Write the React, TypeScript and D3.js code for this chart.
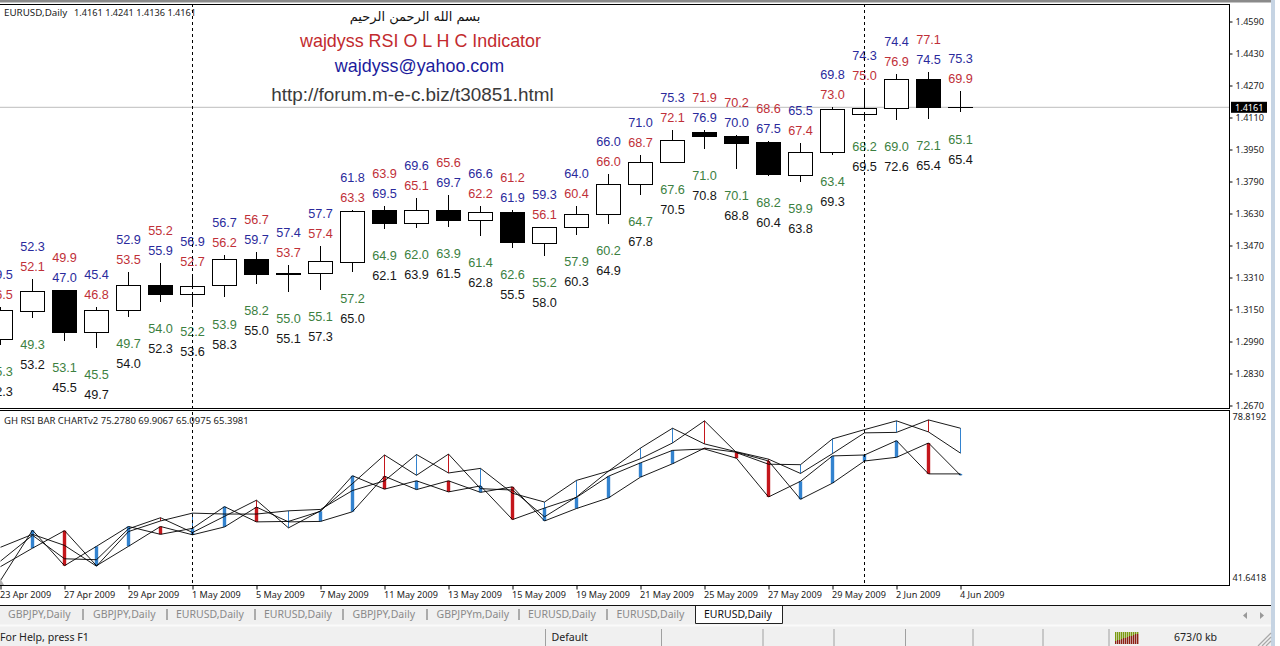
import React, { useEffect, useRef } from 'react';
import * as d3 from 'd3';

const dates = ['23 Apr 2009', '24 Apr 2009', '27 Apr 2009', '28 Apr 2009', '29 Apr 2009', '30 Apr 2009', '1 May 2009', '4 May 2009', '5 May 2009', '6 May 2009', '7 May 2009', '8 May 2009', '11 May 2009', '12 May 2009', '13 May 2009', '14 May 2009', '15 May 2009', '18 May 2009', '19 May 2009', '20 May 2009', '21 May 2009', '22 May 2009', '25 May 2009', '26 May 2009', '27 May 2009', '28 May 2009', '29 May 2009', '1 Jun 2009', '2 Jun 2009', '3 Jun 2009', '4 Jun 2009'];
const dateTicks = ['23 Apr 2009', '27 Apr 2009', '29 Apr 2009', '1 May 2009', '5 May 2009', '7 May 2009', '11 May 2009', '13 May 2009', '15 May 2009', '19 May 2009', '21 May 2009', '25 May 2009', '27 May 2009', '29 May 2009', '2 Jun 2009', '4 Jun 2009'];
const separators = ['1 May 2009', '1 Jun 2009'];

const opens = [1.3001, 1.3141, 1.3243, 1.3036, 1.3146, 1.3271, 1.3226, 1.3271, 1.3401, 1.3326, 1.3331, 1.3386, 1.3643, 1.3581, 1.3646, 1.3596, 1.3636, 1.3481, 1.3561, 1.3626, 1.3776, 1.3886, 1.4033, 1.4016, 1.3983, 1.3821, 1.3936, 1.4126, 1.4156, 1.4301, 1.4161];
const highs = [1.3164, 1.3303, 1.3248, 1.3164, 1.3336, 1.3383, 1.3328, 1.3423, 1.3438, 1.3373, 1.3468, 1.3648, 1.3668, 1.3708, 1.3723, 1.3668, 1.3648, 1.3561, 1.3668, 1.3828, 1.3923, 1.4048, 1.4048, 1.4023, 1.3994, 1.3981, 1.4164, 1.4256, 1.4328, 1.4338, 1.4241];
const lows = [1.2973, 1.3109, 1.2994, 1.2959, 1.3114, 1.3189, 1.3173, 1.3211, 1.3279, 1.3239, 1.3249, 1.3339, 1.3554, 1.3558, 1.3563, 1.3518, 1.3459, 1.3418, 1.3524, 1.3578, 1.3724, 1.3886, 1.3954, 1.3854, 1.3818, 1.3788, 1.3924, 1.4098, 1.4099, 1.4104, 1.4136];
const closes = [1.3143, 1.3241, 1.3034, 1.3146, 1.3271, 1.3224, 1.3266, 1.3401, 1.3324, 1.3331, 1.3391, 1.3641, 1.3579, 1.3646, 1.3594, 1.3636, 1.3484, 1.3561, 1.3626, 1.3776, 1.3886, 1.3996, 1.4014, 1.3979, 1.3824, 1.3936, 1.4151, 1.4156, 1.4301, 1.4158, 1.4161];

const rsiBlue = [49.5, 52.3, 47.0, 45.4, 52.9, 55.9, 56.9, 56.7, 59.7, 57.4, 57.7, 61.8, 69.5, 69.6, 69.7, 66.6, 61.9, 59.3, 64.0, 66.0, 71.0, 75.3, 76.9, 70.0, 67.5, 65.5, 69.8, 74.3, 74.4, 74.5, 75.3];
const rsiRed = [46.5, 52.1, 49.9, 46.8, 53.5, 55.2, 52.7, 56.2, 56.7, 53.7, 57.4, 63.3, 63.9, 65.1, 65.6, 62.2, 61.2, 56.1, 60.4, 66.0, 68.7, 72.1, 71.9, 70.2, 68.6, 67.4, 73.0, 75.0, 76.9, 77.1, 69.9];
const rsiGreen = [45.3, 49.3, 53.1, 45.5, 49.7, 54.0, 52.2, 53.9, 58.2, 55.0, 55.1, 57.2, 64.9, 62.0, 63.9, 61.4, 62.6, 55.2, 57.9, 60.2, 64.7, 67.6, 71.0, 70.1, 68.2, 59.9, 63.4, 68.2, 69.0, 72.1, 65.1];
const rsiBlack = [42.3, 53.2, 45.5, 49.7, 54.0, 52.3, 53.6, 58.3, 55.0, 55.1, 57.3, 65.0, 62.1, 63.9, 61.5, 62.8, 55.5, 58.0, 60.3, 64.9, 67.8, 70.5, 70.8, 68.8, 60.4, 63.8, 69.3, 69.5, 72.6, 65.4, 65.4];

const priceTicks = [1.459, 1.443, 1.427, 1.411, 1.395, 1.379, 1.363, 1.347, 1.331, 1.315, 1.299, 1.283, 1.267];
const rsiTicks = [78.8192, 41.6418];
const lastPrice = 1.4161;

const titleArabic = 'بسم الله الرحمن الرحيم';
const titleName = 'wajdyss RSI O L H C Indicator';
const titleMail = 'wajdyss@yahoo.com';
const titleUrl = 'http://forum.m-e-c.biz/t30851.html';
const mainName = 'EURUSD,Daily';
const mainOhlc = '1.4161 1.4241 1.4136 1.4161';
const subCaption = 'GH RSI BAR CHARTv2 75.2780 69.9067 65.0975 65.3981';

const tabNames = ['GBPJPY,Daily', 'GBPJPY,Daily', 'EURUSD,Daily', 'EURUSD,Daily', 'GBPJPY,Daily', 'GBPJPYm,Daily', 'EURUSD,Daily', 'EURUSD,Daily'];
const tabStarts = [8, 93, 176, 264, 352.5, 436.5, 528, 616.5];
const tabSeps = [83, 167, 255, 343, 427, 519, 607];
const statusSeps = [545.5, 661.5, 763, 834, 905.5, 973, 1043, 1109];
const meterBars = [3, 4, 4, 5, 6, 6, 7, 8, 8, 9, 10, 10];

const UI_FONT = '"Noto Sans", sans-serif';
const LABEL_FONT = '"Liberation Sans", Arial, sans-serif';
const C_BLUE = '#2a2a9c';
const C_RED = '#bf3038';
const C_GREEN = '#3c7f3f';
const C_BLACK = '#161616';
const BAR_BLUE = '#3383cf';
const BAR_RED = '#c4161c';

export default function App() {
  const svgRef = useRef<SVGSVGElement | null>(null);

  useEffect(() => {
    const svg = d3.select(svgRef.current);
    svg.selectAll('*').remove();

    const right = 1229.5;
    const x = d3.scalePoint<string>().domain(dates).range([0.5, 960.5]);
    const y = d3.scaleLinear().domain([1.267, 1.459]).range([405.5, 21.5]);
    const yRsi = d3.scaleLinear().domain([41.6418, 78.8192]).range([583.5, 412]);
    const xOf = (i: number) => x(dates[i]) as number;
    const isBull = (i: number) => closes[i] >= opens[i];

    // the two upper rows swap colour with the candle, the lines follow the row
    const rsiFar = dates.map((d, i) => (isBull(i) ? rsiBlue[i] : rsiRed[i]));
    const rsiNear = dates.map((d, i) => (isBull(i) ? rsiRed[i] : rsiBlue[i]));

    // window chrome
    svg.append('rect').attr('width', 1280).attr('height', 646).attr('fill', '#fff');
    svg.append('rect').attr('width', 1271).attr('height', 2.5).attr('fill', '#8a8a8a');
    svg.append('rect').attr('x', 1271).attr('width', 4).attr('height', 646).attr('fill', '#c6d4e3');
    svg.append('rect').attr('y', 605).attr('width', 1271).attr('height', 41).attr('fill', '#f0f0f0');
    svg.append('line').attr('x1', 0).attr('x2', 1271).attr('y1', 605.5).attr('y2', 605.5).attr('stroke', '#111');
    svg.append('line').attr('x1', 0).attr('x2', 1271).attr('y1', 625.5).attr('y2', 625.5).attr('stroke', '#fafafa').attr('stroke-width', 2);

    // price line behind everything
    svg.append('line')
      .attr('x1', 0).attr('x2', right)
      .attr('y1', y(lastPrice)).attr('y2', y(lastPrice))
      .attr('stroke', '#bdbdbd');

    // candles
    const candles = svg.append('g').attr('shape-rendering', 'crispEdges');
    dates.forEach((d, i) => {
      const cx = xOf(i);
      candles.append('line')
        .attr('x1', cx).attr('x2', cx)
        .attr('y1', y(highs[i])).attr('y2', y(lows[i]))
        .attr('stroke', '#000');
      const top = y(Math.max(opens[i], closes[i]));
      const bottom = y(Math.min(opens[i], closes[i]));
      candles.append('rect')
        .attr('x', cx - 12).attr('width', 24)
        .attr('y', top).attr('height', Math.max(bottom - top, 0.5))
        .attr('fill', isBull(i) ? '#fff' : '#000')
        .attr('stroke', '#000');
    });

    // rsi values around each candle
    const labels = svg.append('g')
      .attr('font-family', LABEL_FONT)
      .attr('font-size', 12.7)
      .attr('text-anchor', 'middle')
      .attr('dominant-baseline', 'central');
    const addLabel = (i: number, py: number, v: number, fill: string) => {
      labels.append('text').attr('x', xOf(i)).attr('y', py).attr('fill', fill).text(v.toFixed(1));
    };
    dates.forEach((d, i) => {
      const hy = y(highs[i]);
      const ly = y(lows[i]);
      addLabel(i, hy - (isBull(i) ? 32 : 12), rsiBlue[i], C_BLUE);
      addLabel(i, hy - (isBull(i) ? 12 : 32), rsiRed[i], C_RED);
      addLabel(i, ly + 27.5, rsiGreen[i], C_GREEN);
      addLabel(i, ly + 47.5, rsiBlack[i], C_BLACK);
    });

    // headings
    const heading = (txt: string, cx: number, cy: number, size: number, fill: string, font: string) =>
      svg.append('text')
        .attr('x', cx).attr('y', cy)
        .attr('text-anchor', 'middle').attr('dominant-baseline', 'central')
        .attr('font-family', font).attr('font-size', size).attr('fill', fill)
        .text(txt);
    heading(titleArabic, 415, 16, 13, '#111', '"DejaVu Sans", sans-serif');
    heading(titleName, 420.5, 41, 17.9, '#c22a2e', LABEL_FONT);
    heading(titleMail, 419.5, 65.5, 17.9, '#1b1b9c', LABEL_FONT);
    heading(titleUrl, 412.5, 94, 18.9, '#3a3a3a', LABEL_FONT);

    svg.append('text').attr('x', 4).attr('y', 16)
      .attr('font-family', UI_FONT).attr('font-size', 9.8).attr('fill', '#222').text(mainName);
    svg.append('text').attr('x', 74).attr('y', 16)
      .attr('font-family', UI_FONT).attr('font-size', 9.2).attr('fill', '#222').text(mainOhlc);
    svg.append('text').attr('x', 4).attr('y', 424).attr('font-family', UI_FONT)
      .attr('font-size', 9.5).attr('fill', '#222').text(subCaption);

    // rsi panel: thin and thick bars, then the four lines
    // first bar sits on the window edge and does not show
    const bars = svg.append('g');
    dates.forEach((d, i) => {
      if (i === 0) return;
      const col = rsiBlack[i] >= rsiGreen[i] ? BAR_BLUE : BAR_RED;
      bars.append('line')
        .attr('x1', xOf(i)).attr('x2', xOf(i))
        .attr('y1', yRsi(rsiFar[i])).attr('y2', yRsi(rsiNear[i]))
        .attr('stroke', col)
        .attr('stroke-width', 1);
      bars.append('line')
        .attr('x1', xOf(i)).attr('x2', xOf(i))
        .attr('y1', yRsi(rsiGreen[i])).attr('y2', yRsi(rsiBlack[i]))
        .attr('stroke', col)
        .attr('stroke-width', 3.4);
    });
    const line = d3.line<number>().x((v, i) => xOf(i)).y((v) => yRsi(v));
    [rsiFar, rsiNear, rsiGreen, rsiBlack].forEach((s) => {
      svg.append('path').attr('d', line(s)).attr('fill', 'none').attr('stroke', '#000').attr('stroke-width', 0.9);
    });

    // chart shift marker
    svg.append('path').attr('d', 'M0,578L4,585L0,585Z').attr('fill', '#b0b0b0');

    // period separators
    separators.forEach((d) => {
      svg.append('line')
        .attr('x1', x(d) as number).attr('x2', x(d) as number)
        .attr('y1', 4).attr('y2', 585)
        .attr('stroke', '#000').attr('stroke-dasharray', '3 3')
        .attr('shape-rendering', 'crispEdges');
    });

    // panel frames
    const frames = svg.append('g').attr('fill', 'none').attr('stroke', '#000').attr('shape-rendering', 'crispEdges');
    frames.append('path').attr('d', `M0,4.5H${right}V408.5H0`);
    frames.append('path').attr('d', `M0,410.5H${right}V585.5H0`);

    // axes
    const priceAxis = d3.axisRight(y).tickValues(priceTicks).tickFormat((v) => (v as number).toFixed(4)).tickSize(3).tickSizeOuter(0).tickPadding(3);
    const gPrice = svg.append('g').attr('transform', `translate(${right},0)`).call(priceAxis);
    const rsiAxis = d3.axisRight(yRsi).tickValues(rsiTicks).tickFormat((v) => (v as number).toFixed(4)).tickSize(0).tickSizeOuter(0).tickPadding(3);
    const gRsi = svg.append('g').attr('transform', `translate(${right},0)`).call(rsiAxis);
    gRsi.selectAll('.tick').attr('transform', (v: any, i: number) => `translate(0,${i === 0 ? 417 : 578.5})`);
    const dateAxis = d3.axisBottom(x).tickValues(dateTicks).tickSize(4).tickSizeOuter(0).tickPadding(2);
    const gDate = svg.append('g').attr('transform', 'translate(0,585.5)').call(dateAxis);
    gDate.selectAll('text').attr('text-anchor', 'start').attr('dx', -1);
    [gPrice, gRsi, gDate].forEach((g) => {
      g.select('.domain').remove();
      g.selectAll('line').attr('stroke', '#000');
      g.selectAll('text').attr('font-family', UI_FONT).attr('font-size', 9.1).attr('fill', '#222');
    });

    // current price tag
    svg.append('rect').attr('x', 1231).attr('y', y(lastPrice) - 5.5).attr('width', 36).attr('height', 11).attr('fill', '#000');
    svg.append('text').attr('x', 1235).attr('y', y(lastPrice) + 3.3)
      .attr('font-family', UI_FONT).attr('font-size', 9.1).attr('fill', '#fff').text(lastPrice.toFixed(4));

    // tab strip
    const tabs = svg.append('g').attr('font-family', UI_FONT).attr('font-size', 10.5);
    tabNames.forEach((t, i) => {
      tabs.append('text').attr('x', tabStarts[i]).attr('y', 618).attr('fill', '#8a8a8a').text(t);
    });
    tabSeps.forEach((sx) => {
      tabs.append('line').attr('x1', sx).attr('x2', sx).attr('y1', 609).attr('y2', 620).attr('stroke', '#666');
    });
    svg.append('path').attr('d', 'M695.5,606V623.5H782.5V606').attr('fill', '#fff').attr('stroke', '#222');
    svg.append('text').attr('x', 704).attr('y', 618).attr('font-family', UI_FONT).attr('font-size', 10.5).attr('fill', '#111').text('EURUSD,Daily');
    svg.append('path').attr('d', 'M1247,612L1243,615.5L1247,619Z').attr('fill', '#999');
    svg.append('path').attr('d', 'M1260,612L1264,615.5L1260,619Z').attr('fill', '#999');

    // status bar
    statusSeps.forEach((sx) => {
      svg.append('line').attr('x1', sx).attr('x2', sx).attr('y1', 629).attr('y2', 646).attr('stroke', '#a0a0a0');
    });
    const status = svg.append('g').attr('font-family', UI_FONT).attr('font-size', 10.6).attr('fill', '#222');
    status.append('text').attr('x', 0).attr('y', 641).text('For Help, press F1');
    status.append('text').attr('x', 551.5).attr('y', 641).text('Default');
    status.append('text').attr('x', 1174).attr('y', 641).text('673/0 kb');

    // connection meter
    meterBars.forEach((h, i) => {
      const mx = 1115 + i * 2;
      svg.append('rect').attr('x', mx).attr('y', 632).attr('width', 1.4).attr('height', 12 - h).attr('fill', '#7a9a10');
      svg.append('rect').attr('x', mx).attr('y', 644 - h).attr('width', 1.4).attr('height', h).attr('fill', '#8a2014');
    });

    // resize grip
    [0, 4, 8].forEach((o) => {
      svg.append('line').attr('x1', 1258 + o).attr('y1', 646).attr('x2', 1271).attr('y2', 633 + o).attr('stroke', '#a8a8a8').attr('stroke-width', 1.2);
    });
  }, []);

  return (
    <svg
      ref={svgRef}
      width={1280}
      height={646}
      style={{ position: 'absolute', left: 0, top: 0, display: 'block' }}
    ></svg>
  );
}
